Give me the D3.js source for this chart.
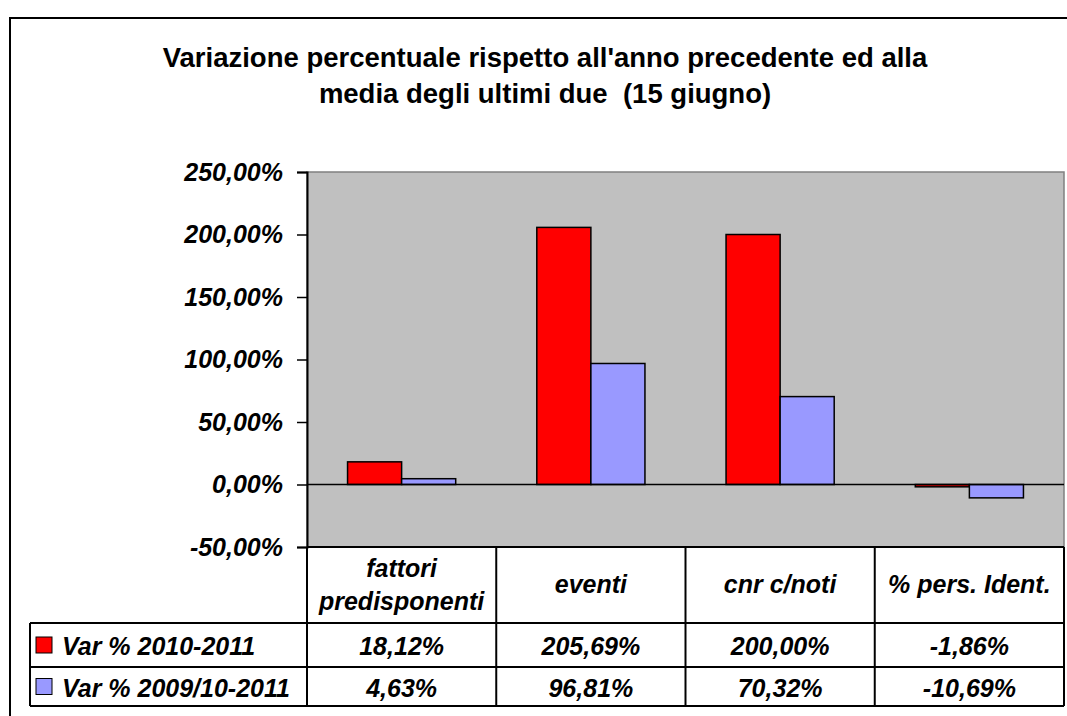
<!DOCTYPE html>
<html>
<head>
<meta charset="utf-8">
<script src="https://cdn.jsdelivr.net/npm/d3@7"></script>
<style>
  html, body { margin: 0; padding: 0; background: #fff; }
  svg { display: block; font-family: "Liberation Sans", Arial, sans-serif; }
</style>
</head>
<body>
<svg id="chart" width="1067" height="716"></svg>
<script>
// Chart data
const titleLines = ["Variazione percentuale rispetto all'anno precedente ed alla",
                    "media degli ultimi due  (15 giugno)"];
const categories = ["fattori predisponenti", "eventi", "cnr c/noti", "% pers. Ident."];
const categoryLines = [["fattori", "predisponenti"], ["eventi"], ["cnr c/noti"], ["% pers. Ident."]];
const seriesNames = ["Var % 2010-2011", "Var % 2009/10-2011"];
const var2010_2011 = [18.12, 205.69, 200.00, -1.86];
const var2009_10_2011 = [4.63, 96.81, 70.32, -10.69];
const yTicks = [250, 200, 150, 100, 50, 0, -50];
const seriesColors = ["#FF0000", "#9999FF"];

const series = [var2010_2011, var2009_10_2011];

const svg = d3.select("#chart");

// Frame layout
const plot = { left: 307, right: 1064, top: 172, bottom: 547 };
const tableRows = [547, 623, 667, 706];
const legendLeft = 30;
const tableFont = 25;

// Italian-style percentage: comma decimal, plain hyphen for negatives
const fmt = v => d3.format(".2f")(v).replace(".", ",").replace("\u2212", "-") + "%";

// Outer chart border
svg.append("rect")
  .attr("x", 10).attr("y", 18)
  .attr("width", 1067).attr("height", 740)
  .attr("fill", "none").attr("stroke", "#000").attr("stroke-width", 2);

// Title
svg.append("g").selectAll("text").data(titleLines).join("text")
  .attr("x", 545).attr("y", (d, i) => 67 + i * 36)
  .attr("text-anchor", "middle")
  .attr("font-size", 27.5).attr("font-weight", "bold")
  .style("white-space", "pre")
  .text(d => d);

// Scales
const x0 = d3.scaleBand().domain(categories).range([plot.left, plot.right]).paddingInner(0).paddingOuter(0);
const barW = x0.bandwidth() / 3.5;
const x1 = d3.scaleBand().domain([0, 1]).range([0, barW * 2]);
const y = d3.scaleLinear().domain([-50, 250]).range([plot.bottom, plot.top]);

// Plot area background
svg.append("rect")
  .attr("x", plot.left).attr("y", plot.top)
  .attr("width", plot.right - plot.left).attr("height", plot.bottom - plot.top)
  .attr("fill", "#C0C0C0").attr("stroke", "#808080").attr("stroke-width", 1.5);

// Bars
const groups = svg.append("g").selectAll("g").data(categories).join("g")
  .attr("transform", d => `translate(${x0(d) + (x0.bandwidth() - barW * 2) / 2},0)`);
groups.selectAll("rect")
  .data((d, ci) => series.map((s, si) => ({ si, v: s[ci] })))
  .join("rect")
  .attr("x", d => x1(d.si))
  .attr("width", barW)
  .attr("y", d => y(Math.max(0, d.v)))
  .attr("height", d => Math.abs(y(d.v) - y(0)))
  .attr("fill", d => seriesColors[d.si])
  .attr("stroke", "#000").attr("stroke-width", 1.5);

// Zero line
svg.append("line")
  .attr("x1", plot.left).attr("x2", plot.right)
  .attr("y1", y(0)).attr("y2", y(0))
  .attr("stroke", "#000").attr("stroke-width", 1.5);

// Y axis
const yAxis = d3.axisLeft(y).tickValues(yTicks).tickSize(10).tickPadding(14)
  .tickFormat(fmt);
const gy = svg.append("g").attr("transform", `translate(${plot.left},0)`).call(yAxis);
gy.select(".domain").attr("stroke", "#000").attr("stroke-width", 2);
gy.selectAll(".tick line").attr("stroke", "#000").attr("stroke-width", 1.5);
gy.selectAll(".tick text")
  .attr("font-family", "'Liberation Sans', Arial, sans-serif")
  .attr("font-size", 25).attr("font-weight", "bold").attr("font-style", "italic")
  .attr("fill", "#000");

// Data table grid
const grid = svg.append("g").attr("stroke", "#000").attr("stroke-width", 2);
grid.append("line").attr("x1", plot.left).attr("x2", plot.right)
  .attr("y1", tableRows[0]).attr("y2", tableRows[0]);
tableRows.slice(1).forEach(r => {
  grid.append("line").attr("x1", legendLeft).attr("x2", plot.right).attr("y1", r).attr("y2", r);
});
const colEdges = categories.map(c => x0(c)).concat([plot.right]);
colEdges.forEach(cx => {
  grid.append("line").attr("x1", cx).attr("x2", cx)
    .attr("y1", tableRows[0]).attr("y2", tableRows[3]);
});
grid.append("line").attr("x1", legendLeft).attr("x2", legendLeft)
  .attr("y1", tableRows[1]).attr("y2", tableRows[3]);

// Header cells
const header = svg.append("g").selectAll("text").data(categories).join("text")
  .attr("x", d => x0(d) + x0.bandwidth() / 2)
  .attr("text-anchor", "middle")
  .attr("font-size", tableFont).attr("font-weight", "bold").attr("font-style", "italic");
header.each(function(d, i) {
  const lines = categoryLines[i];
  const mid = (tableRows[0] + tableRows[1]) / 2;
  const lh = 33;
  d3.select(this).selectAll("tspan").data(lines).join("tspan")
    .attr("x", x0(d) + x0.bandwidth() / 2)
    .attr("y", (l, j) => mid + 8 + (j - (lines.length - 1) / 2) * lh)
    .text(l => l);
});

// Value cells
series.forEach((s, si) => {
  const rowMid = (tableRows[si + 1] + tableRows[si + 2]) / 2;
  svg.append("g").selectAll("text").data(s).join("text")
    .attr("x", (v, i) => x0(categories[i]) + x0.bandwidth() / 2)
    .attr("y", rowMid + 10)
    .attr("text-anchor", "middle")
    .attr("font-size", tableFont).attr("font-weight", "bold").attr("font-style", "italic")
    .text(v => fmt(v));

  // Legend key and series name
  svg.append("rect")
    .attr("x", 36).attr("y", rowMid - 8)
    .attr("width", 16).attr("height", 16)
    .attr("fill", seriesColors[si]).attr("stroke", "#000").attr("stroke-width", 1);
  svg.append("text")
    .attr("x", 62).attr("y", rowMid + 10)
    .attr("font-size", tableFont).attr("font-weight", "bold").attr("font-style", "italic")
    .text(seriesNames[si]);
});
</script>
</body>
</html>
